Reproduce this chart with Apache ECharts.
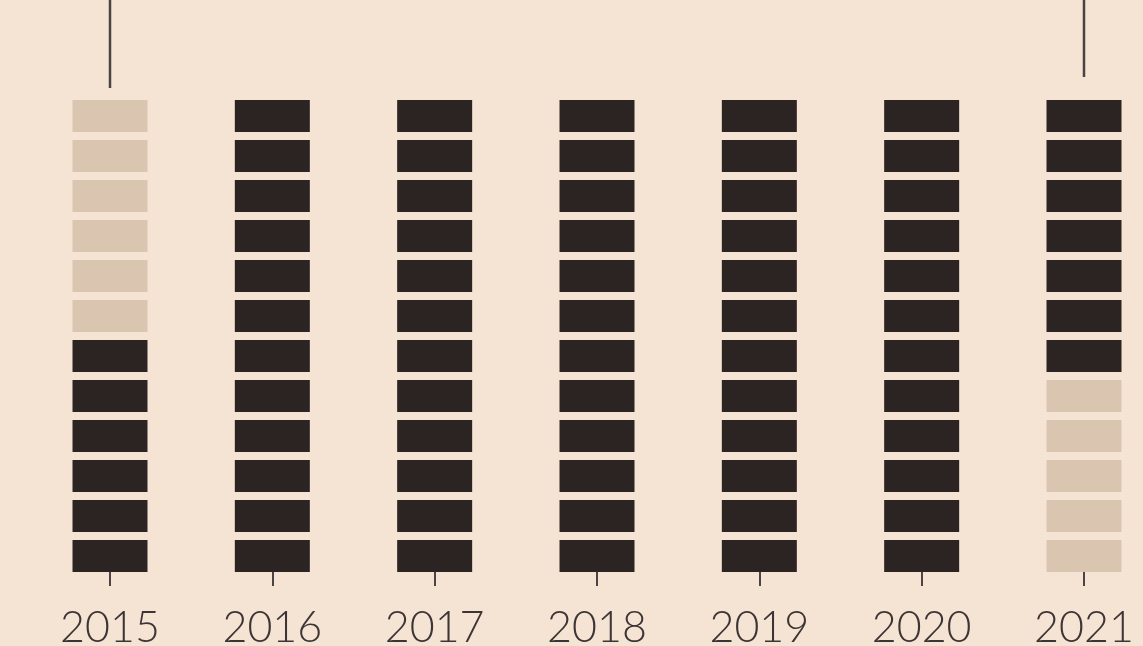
<!DOCTYPE html>
<html>
<head>
<meta charset="utf-8">
<script src="https://cdn.jsdelivr.net/npm/echarts@6/dist/echarts.min.js"></script>
<style>
html,body{margin:0;padding:0;background:#f5e4d4;}
#chart{width:1143px;height:646px;}
</style>
</head>
<body>
<div id="chart"></div>
<script>
// Data
const years = ['2015', '2016', '2017', '2018', '2019', '2020', '2021'];
const firstActiveMonth = [7, 1, 1, 1, 1, 1, 1];
const lastActiveMonth = [12, 12, 12, 12, 12, 12, 7];
const monthsPerYear = 12;
const leaderYears = ['2015', '2021'];
const leaderBottoms = [12.1, 12.375]; // in month-slot units
const yTop = 14.3;

// Build marks
const blockData = [];
years.forEach((y, i) => {
  for (let m = 1; m <= monthsPerYear; m++) {
    const active = (m >= firstActiveMonth[i] && m <= lastActiveMonth[i]) ? 1 : 0;
    blockData.push([i, monthsPerYear - m, active]);
  }
});
const leaderData = leaderYears.map((y, k) => [years.indexOf(y), leaderBottoms[k], yTop]);

const DARK = '#2c2422';
const LIGHT = '#d9c5b0';

const chart = echarts.init(document.getElementById('chart'));
chart.setOption({
  backgroundColor: '#f5e4d4',
  animation: false,
  grid: { left: 28.83, width: 1136.33, top: 0, height: 572, containLabel: false, outerBoundsMode: 'none' },
  xAxis: {
    type: 'category',
    data: years,
    axisLine: { show: false },
    axisTick: { show: true, interval: 0, alignWithLabel: true, length: 14, lineStyle: { color: '#4a4444', width: 2 } },
    axisLabel: { interval: 0, fontSize: 43, fontWeight: 300, fontFamily: 'Lato, "Open Sans", sans-serif', color: '#3d3535', margin: 35 },
    splitLine: { show: false }
  },
  yAxis: { type: 'value', min: 0, max: yTop, show: false },
  series: [
    {
      type: 'custom',
      data: blockData,
      renderItem: function (params, api) {
        const x = api.value(0), slot = api.value(1), active = api.value(2);
        const p0 = api.coord([x, slot]);
        const p1 = api.coord([x, slot + 0.8]);
        const bw = api.size([1, 0])[0] * 0.462;
        return {
          type: 'rect',
          shape: { x: p0[0] - bw / 2, y: p1[1], width: bw, height: p0[1] - p1[1] },
          style: { fill: active ? DARK : LIGHT }
        };
      }
    },
    {
      type: 'custom',
      data: leaderData,
      renderItem: function (params, api) {
        const x = api.value(0);
        const a = api.coord([x, api.value(1)]);
        const b = api.coord([x, api.value(2)]);
        return {
          type: 'line',
          shape: { x1: a[0], y1: a[1], x2: b[0], y2: b[1] },
          style: { stroke: '#4a4444', lineWidth: 2.5 }
        };
      }
    }
  ]
});
</script>
</body>
</html>
